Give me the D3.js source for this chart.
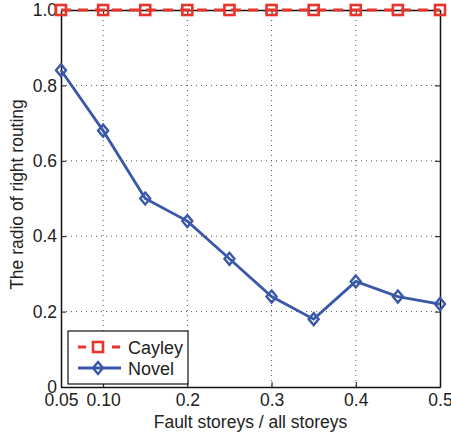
<!DOCTYPE html>
<html>
<head>
<meta charset="utf-8">
<script src="https://cdn.jsdelivr.net/npm/d3@7"></script>
<style>
  body { margin: 0; background: #fff; }
  svg { font-family: "Liberation Sans", Arial, sans-serif; }
</style>
</head>
<body>
<div id="chart"></div>
<script>
const xValues = [0.05, 0.10, 0.15, 0.20, 0.25, 0.30, 0.35, 0.40, 0.45, 0.50];
const cayley = [1, 1, 1, 1, 1, 1, 1, 1, 1, 1];
const novel = [0.84, 0.68, 0.50, 0.44, 0.34, 0.24, 0.18, 0.28, 0.24, 0.22];
const xTicks = [0.05, 0.10, 0.2, 0.3, 0.4, 0.5];
const xTickLabels = ['0.05', '0.10', '0.2', '0.3', '0.4', '0.5'];
const yTicks = [0, 0.2, 0.4, 0.6, 0.8, 1.0];
const yTickLabels = ['0', '0.2', '0.4', '0.6', '0.8', '1.0'];
const seriesNames = ['Cayley', 'Novel'];

const w = 451, h = 436;
const plotLeft = 61, plotRight = 440, plotTop = 10, plotBottom = 387;
const red = '#e8352b', blue = '#3a58a8';

const svg = d3.select('#chart')
  .append('svg')
  .attr('width', w)
  .attr('height', h);

const xScale = d3.scaleLinear().domain([0.05, 0.5]).range([plotLeft, plotRight]);
const yScale = d3.scaleLinear().domain([0, 1]).range([plotBottom, plotTop]);

// dotted grid
svg.append('g')
  .selectAll('line')
  .data(xTicks.filter(d => d > 0.05 && d < 0.5))
  .enter()
  .append('line')
  .attr('x1', d => xScale(d)).attr('x2', d => xScale(d))
  .attr('y1', plotTop).attr('y2', plotBottom)
  .attr('stroke', '#555').attr('stroke-width', 1)
  .attr('stroke-dasharray', '1,4');
svg.append('g')
  .selectAll('line')
  .data(yTicks.filter(d => d > 0 && d < 1))
  .enter()
  .append('line')
  .attr('x1', plotLeft).attr('x2', plotRight)
  .attr('y1', d => yScale(d)).attr('y2', d => yScale(d))
  .attr('stroke', '#555').attr('stroke-width', 1)
  .attr('stroke-dasharray', '1,4');

// axes, ticks pointing inward like matlab
const xAxis = d3.axisBottom(xScale).tickValues(xTicks)
  .tickFormat((d, i) => xTickLabels[i]).tickSizeInner(-5).tickSizeOuter(0).tickPadding(7);
const yAxis = d3.axisLeft(yScale).tickValues(yTicks)
  .tickFormat((d, i) => yTickLabels[i]).tickSizeInner(-5).tickSizeOuter(0).tickPadding(4);

svg.append('g')
  .attr('transform', 'translate(0,' + plotBottom + ')')
  .call(xAxis);
svg.append('g')
  .attr('transform', 'translate(' + plotLeft + ',0)')
  .call(yAxis);
svg.append('g')
  .attr('transform', 'translate(0,' + plotTop + ')')
  .call(d3.axisTop(xScale).tickValues(xTicks).tickFormat('').tickSizeInner(-5).tickSizeOuter(0));
svg.append('g')
  .attr('transform', 'translate(' + plotRight + ',0)')
  .call(d3.axisRight(yScale).tickValues(yTicks).tickFormat('').tickSizeInner(-5).tickSizeOuter(0));

svg.selectAll('.domain').attr('stroke', '#111').attr('stroke-width', 1.5);
svg.selectAll('.tick line').attr('stroke', '#111');
svg.selectAll('.tick text')
  .attr('font-family', '"Liberation Sans", Arial, sans-serif')
  .attr('font-size', 17.5).attr('fill', '#222');

// axis labels
svg.append('text')
  .attr('x', (plotLeft + plotRight) / 2).attr('y', 428)
  .attr('text-anchor', 'middle')
  .attr('font-size', 17.5).attr('fill', '#222')
  .text('Fault storeys / all storeys');
svg.append('text')
  .attr('transform', 'translate(23,' + ((plotTop + plotBottom) / 2 - 4) + ') rotate(-90)')
  .attr('text-anchor', 'middle')
  .attr('font-size', 17.5).attr('fill', '#222')
  .text('The radio of right routing');

const line = d3.line().x((d, i) => xScale(xValues[i])).y(d => yScale(d));

// Novel
svg.append('path')
  .datum(novel)
  .attr('d', line)
  .attr('fill', 'none')
  .attr('stroke', blue)
  .attr('stroke-width', 2.8);
const diamond = 'M0,-6L5,0L0,6L-5,0Z';
svg.append('g')
  .selectAll('path')
  .data(novel)
  .enter()
  .append('path')
  .attr('transform', (d, i) => 'translate(' + xScale(xValues[i]) + ',' + yScale(d) + ')')
  .attr('d', diamond)
  .attr('fill', 'none')
  .attr('stroke', blue)
  .attr('stroke-width', 2.4);

// Cayley
svg.append('path')
  .datum(cayley)
  .attr('d', line)
  .attr('fill', 'none')
  .attr('stroke', red)
  .attr('stroke-width', 2.8)
  .attr('stroke-dasharray', '10,7');
svg.append('g')
  .selectAll('rect')
  .data(cayley)
  .enter()
  .append('rect')
  .attr('x', (d, i) => xScale(xValues[i]) - 5)
  .attr('y', d => yScale(d) - 5)
  .attr('width', 10).attr('height', 10)
  .attr('fill', 'none')
  .attr('stroke', red)
  .attr('stroke-width', 2.6);

// legend
const legend = svg.append('g').attr('transform', 'translate(68,331)');
legend.append('rect')
  .attr('width', 120).attr('height', 53)
  .attr('fill', '#fff').attr('stroke', '#111').attr('stroke-width', 1.2);
const items = legend.selectAll('g.item')
  .data(seriesNames)
  .enter()
  .append('g')
  .attr('class', 'item')
  .attr('transform', (d, i) => 'translate(0,' + (16 + i * 21) + ')');
items.append('line')
  .attr('x1', 10).attr('x2', 53)
  .attr('stroke', (d, i) => i === 0 ? red : blue)
  .attr('stroke-width', 2.8)
  .attr('stroke-dasharray', (d, i) => i === 0 ? '8,26' : null);
items.filter((d, i) => i === 0).append('rect')
  .attr('x', 25).attr('y', -5).attr('width', 10).attr('height', 10)
  .attr('fill', 'none').attr('stroke', red).attr('stroke-width', 2.6);
items.filter((d, i) => i === 1).append('path')
  .attr('transform', 'translate(30,0)')
  .attr('d', diamond)
  .attr('fill', 'none').attr('stroke', blue).attr('stroke-width', 2.4);
items.append('text')
  .attr('x', 60).attr('y', 6.5)
  .attr('font-size', 18).attr('fill', '#222')
  .text(d => d);
</script>
</body>
</html>
